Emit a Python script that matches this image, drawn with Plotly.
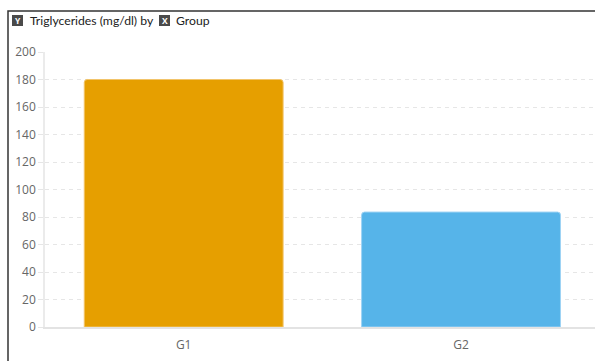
import plotly.graph_objects as go

categories = ["G1", "G2"]
values = [180, 83.6]
colors = ["#E69F00", "#56B4E9"]
line_colors = ["#F2C46A", "#9ED3F4"]
y_ticks = [0, 20, 40, 60, 80, 100, 120, 140, 160, 180, 200]

W, H = 595, 361
ml, mt, mr, mb = 45, 52, 0, 34
pw = W - ml - mr
ph = H - mt - mb

def px_x(x):
    return (x - ml) / pw

def px_y(y):
    return (H - mb - y) / ph

fig = go.Figure()
fig.add_trace(go.Bar(
    x=categories, y=values, width=0.717,
    marker=dict(color=colors, line=dict(color=line_colors, width=1)),
    hoverinfo="x+y",
))

font_fam = "Open Sans, Noto Sans, sans-serif"
title_fam = "Lato, Noto Sans, sans-serif"

def icon_box(x0, y0, size=11):
    return dict(type="rect", xref="paper", yref="paper",
                x0=px_x(x0), x1=px_x(x0 + size), y0=px_y(y0 + size), y1=px_y(y0),
                line=dict(width=0), fillcolor="#4a4a4a", layer="above")

def icon_letter(letter, x0, y0, size=11):
    return dict(xref="paper", yref="paper", x=px_x(x0 + size / 2), y=px_y(y0 + size / 2 + 0.5),
                xanchor="center", yanchor="middle", text="<b>%s</b>" % letter, showarrow=False,
                font=dict(size=8.5, color="white", family=font_fam))

fig.update_layout(
    width=W, height=H,
    margin=dict(l=ml, r=mr, t=mt, b=mb),
    paper_bgcolor="white", plot_bgcolor="white",
    showlegend=False,
    barcornerradius=3,
    font=dict(family=font_fam, size=12, color="#666"),
    xaxis=dict(
        type="category", range=[-0.5, 1.483],
        showline=True, linecolor="#e3e3e3", linewidth=1.5,
        showgrid=False, ticks="outside", ticklen=6, tickcolor="rgba(0,0,0,0)",
        tickfont=dict(size=12, color="#666"), fixedrange=True,
    ),
    yaxis=dict(
        range=[0, 200], tickvals=y_ticks,
        showline=True, linecolor="#ebebeb", linewidth=1.5,
        showgrid=True, gridcolor="#e6e6e6", griddash="4px,4px", gridwidth=1,
        ticks="outside", ticklen=5, tickcolor="#e6e6e6",
        tickfont=dict(size=12, color="#666"), zeroline=False, fixedrange=True,
    ),
    shapes=[
        dict(type="rect", xref="paper", yref="paper",
             x0=px_x(8), x1=px_x(W + 20), y0=px_y(H + 20), y1=px_y(11),
             line=dict(color="#333", width=1.5), fillcolor="rgba(0,0,0,0)", layer="above"),
        icon_box(12, 15),
        icon_box(159, 15),
    ],
    annotations=[
        icon_letter("Y", 12, 15),
        dict(xref="paper", yref="paper", x=px_x(28), y=px_y(21), xanchor="left", yanchor="middle",
             text="Triglycerides (mg/dl) by", showarrow=False,
             font=dict(size=12.2, color="#222", family=title_fam)),
        icon_letter("X", 159, 15),
        dict(xref="paper", yref="paper", x=px_x(174), y=px_y(21), xanchor="left", yanchor="middle",
             text="Group", showarrow=False,
             font=dict(size=12.2, color="#222", family=title_fam)),
    ],
)

fig.write_html("out.html", config={"displayModeBar": False})
